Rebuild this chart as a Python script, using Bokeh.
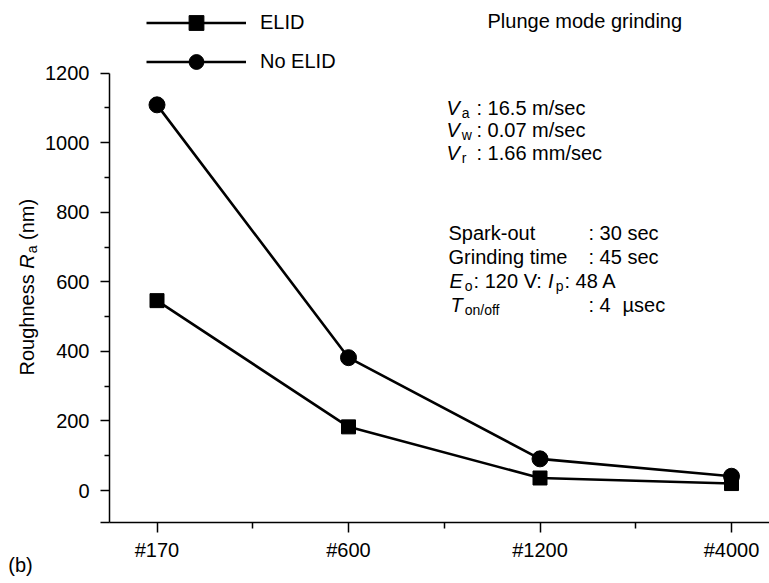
import math
from bokeh.plotting import figure
from bokeh.layouts import row
from bokeh.models import Range1d, FixedTicker, Label, Legend, LegendItem, ColumnDataSource
from bokeh.embed import file_html
from bokeh.resources import INLINE

# ---------------- data ----------------
categories = ["#170", "#600", "#1200", "#4000"]
elid = [546, 183, 36, 20]
no_elid = [1109, 382, 91, 41]
y_ticks = [0, 200, 400, 600, 800, 1000, 1200]
y_minor = [100, 300, 500, 700, 900, 1100]
series_labels = ["ELID", "No ELID"]

# ---------------- layout (page px) ----------------
FONT = "Liberation Sans"
PW, PH = 769, 583
LW = 40                                          # left strip for the y title
FL, FT, FB, FR = 109.0, 0.0, 522.0, 769.0        # frame edges
X0PX, XSTEP = 156.5, 191.5                       # x mapping
Y0PX, YSC = 490.0, 0.34775                       # y mapping
Y_LO = -92


def dx(px):
    return (px - X0PX) / XSTEP


def dy(py):
    return (Y0PX - py) / YSC


p = figure(width=PW - LW, height=PH, output_backend="svg", toolbar_location=None,
           x_range=Range1d(dx(FL), dx(FR)), y_range=Range1d(Y_LO, dy(FT)),
           min_border_left=int(FL - LW), min_border_right=0, min_border_top=0,
           min_border_bottom=int(PH - FB),
           background_fill_color="white", border_fill_color="white",
           outline_line_color=None)
p.grid.visible = False

xa = p.xaxis[0]
xa.ticker = FixedTicker(ticks=list(range(len(categories))),
                        minor_ticks=[i + 0.5 for i in range(len(categories) - 1)])
xa.major_label_overrides = {i: c for i, c in enumerate(categories)}
ya = p.yaxis[0]
ya.ticker = FixedTicker(ticks=[Y_LO] + y_ticks, minor_ticks=y_minor)
ya.major_label_overrides = {Y_LO: ""}
ya.bounds = (Y_LO, y_ticks[-1])
for ax in (xa, ya):
    ax.axis_line_width = 1.5
    ax.axis_line_color = "black"
    ax.major_tick_line_width = 1.5
    ax.minor_tick_line_width = 1.5
    ax.major_tick_line_color = "black"
    ax.minor_tick_line_color = "black"
    ax.major_tick_in = 0
    ax.minor_tick_in = 0
    ax.major_label_text_font = FONT
    ax.major_label_text_font_size = "20px"
    ax.major_label_text_color = "black"
xa.major_tick_out = 10
xa.minor_tick_out = 6
xa.major_label_standoff = 6
ya.major_tick_out = 9
ya.minor_tick_out = 5
ya.major_label_standoff = 11

src = ColumnDataSource(dict(x=list(range(len(categories))), elid=elid, no_elid=no_elid))
l_n = p.line("x", "no_elid", source=src, line_width=2.6, line_color="black")
s_n = p.scatter("x", "no_elid", source=src, marker="circle", size=16,
                fill_color="black", line_color="black")
l_e = p.line("x", "elid", source=src, line_width=2.6, line_color="black")
s_e = p.scatter("x", "elid", source=src, marker="square", size=14,
                fill_color="black", line_color="black")

legend = Legend(items=[LegendItem(label=series_labels[0], renderers=[l_e, s_e]),
                       LegendItem(label=series_labels[1], renderers=[l_n, s_n])],
                location=(37, 442), orientation="vertical",
                glyph_width=100, glyph_height=37, label_height=20,
                label_standoff=14, spacing=2, padding=0, margin=0,
                border_line_alpha=0, background_fill_alpha=0,
                label_text_font=FONT, label_text_font_size="20px",
                label_text_color="black")
p.add_layout(legend)

# ---------------- rich text annotations ----------------
AW = {" ": 278, "#": 556, "(": 333, ")": 333, "-": 333, ".": 278, "/": 278, ":": 278,
      "A": 667, "D": 722, "E": 667, "G": 778, "I": 278, "L": 556, "N": 722, "P": 667,
      "R": 722, "S": 667, "T": 611, "V": 667, "a": 556, "c": 500, "d": 556, "e": 556,
      "f": 278, "g": 556, "h": 556, "i": 222, "k": 500, "l": 222, "m": 833, "n": 556,
      "o": 556, "p": 556, "r": 333, "s": 500, "t": 278, "u": 556, "w": 722, "\u00b5": 576}
for ch in "0123456789":
    AW[ch] = 556


def tw(s, size):
    return sum(AW.get(c, 556) for c in s) * size / 1000.0


def put(text, px, base, size=20, style="normal", angle=0.0, fig=None):
    if fig is None:
        fig, X, Y = p, dx(px), dy(base)
    else:
        X, Y = px, base              # left strip: data == page px
    fig.add_layout(Label(x=X, y=Y, text=text, text_font=FONT,
                         text_font_size=f"{size}px", text_font_style=style,
                         text_color="black", text_align="left",
                         text_baseline="alphabetic", angle=angle))


def rich(runs, px, base):
    """runs: (text, kind) with kind n=normal, i=italic, s=subscript"""
    for text, kind in runs:
        lead = len(text) - len(text.lstrip(" "))
        if lead:
            px += tw(" " * lead, 20)
            text = text.lstrip(" ")
        if kind == "s":
            put(text, px, base + 5, 14)
            px += tw(text, 14) + 1
        elif kind == "i":
            put(text, px, base, 20, "italic")
            px += tw(text, 20) + 2
        else:
            put(text, px, base, 20)
            px += tw(text, 20)


put("Plunge mode grinding", 487, 20)

COL1 = 476
for sym, unit, base in (("a", ": 16.5 m/sec", 107), ("w", ": 0.07 m/sec", 129.5),
                        ("r", ": 1.66 mm/sec", 152)):
    rich([("V", "i"), (sym, "s")], 446, base)
    put(unit, COL1, base)

COL2 = 588
B1, PITCH = 232, 24.3
put("Spark-out", 448, B1)
put(": 30 sec", COL2, B1)
put("Grinding time", 448, B1 + PITCH)
put(": 45 sec", COL2, B1 + PITCH)
rich([("E", "i"), ("o", "s"), (": 120 V: ", "n"), ("I", "i"), ("p", "s"), (": 48 A", "n")],
     449, B1 + 2 * PITCH)
rich([("T", "i"), ("on/off", "s")], 450, B1 + 3 * PITCH)
put(": 4", COL2, B1 + 3 * PITCH)
put("\u00b5sec", 622, B1 + 3 * PITCH)

# ---------------- left strip: y title and panel tag ----------------
lf = figure(width=LW, height=PH, output_backend="svg", toolbar_location=None,
            x_range=Range1d(0, LW), y_range=Range1d(FB, FT),
            min_border=0, min_border_bottom=int(PH - FB), outline_line_color=None,
            background_fill_color="white", border_fill_color="white")
lf.yaxis.visible = False
lf.grid.visible = False
lx = lf.xaxis[0]
lx.ticker = FixedTicker(ticks=[])
lx.axis_line_alpha = 0
lx.major_tick_out = 0
lx.minor_tick_out = 0
lx.major_label_text_font_size = "0px"
lx.axis_label = "(b)"
lx.axis_label_text_font = FONT
lx.axis_label_text_font_size = "20px"
lx.axis_label_text_font_style = "normal"
lx.axis_label_text_color = "black"
lx.axis_label_standoff = 31

A = math.pi / 2
bx, by = 26.0, 375.0
put("Roughness", bx, by, 20, "normal", A, fig=lf)
y_r = by - tw("Roughness ", 20)
put("R", bx, y_r, 20, "italic", A, fig=lf)
y_a = y_r - tw("R", 20) - 1
put("a", bx + 5, y_a, 14, "normal", A, fig=lf)
y_nm = y_a - tw("a", 14) - tw(" ", 20)
put("(nm)", bx, y_nm, 20, "normal", A, fig=lf)

layout = row(lf, p)
open("out.html", "w").write(file_html(layout, INLINE))
